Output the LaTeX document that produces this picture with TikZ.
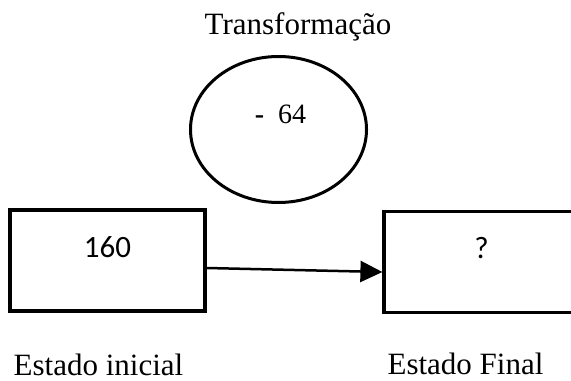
\documentclass[tikz,border=0pt]{standalone}
\usepackage{fontspec}
\setmainfont{Liberation Serif}
\newfontfamily\boxfont{Carlito}
\usetikzlibrary{shapes.geometric, arrows.meta}

\begin{document}
\begin{tikzpicture}[x=0.5pt, y=0.5pt]

    % styles
    \tikzstyle{box node} = [rectangle, draw, line width=1.6pt, inner sep=0pt,
                            minimum width=97.5pt, minimum height=50.5pt,
                            text height=10pt, text depth=13.5pt,
                            font=\boxfont\fontsize{15.5}{18}\selectfont];
    \tikzstyle{ellipse node} = [ellipse, draw, line width=1.5pt,
                                minimum width=88pt, minimum height=73pt];
    \tikzstyle{label node} = [inner sep=0pt, anchor=base,
                              font=\fontsize{15.5}{18}\selectfont];

    \useasboundingbox (0,0) rectangle (571,380);

    % title and operation
    \node[label node] (trans) at (298,345) {Transformação};
    \node[ellipse node] (op) at (278.5,250.5) {};
    \node[label node, font=\fontsize{14}{16}\selectfont] (val) at (280.5,256) {\textbf{-}\enspace 64};

    % states
    \node[box node] (ini) at (107.5,119.5) {160};
    \node[box node] (fim) at (481.5,118) {?};

    \draw [-{Triangle[length=11pt, width=10.5pt]}, line width = 1.25pt]
        ([yshift=-3.75pt]ini.east) -- ([yshift=-5pt]fim.west);

    % captions
    \node[label node] (lini) at (98.5,5) {Estado inicial};
    \node[label node] (lfim) at (465.5,6) {Estado Final};

\end{tikzpicture}
\end{document}
